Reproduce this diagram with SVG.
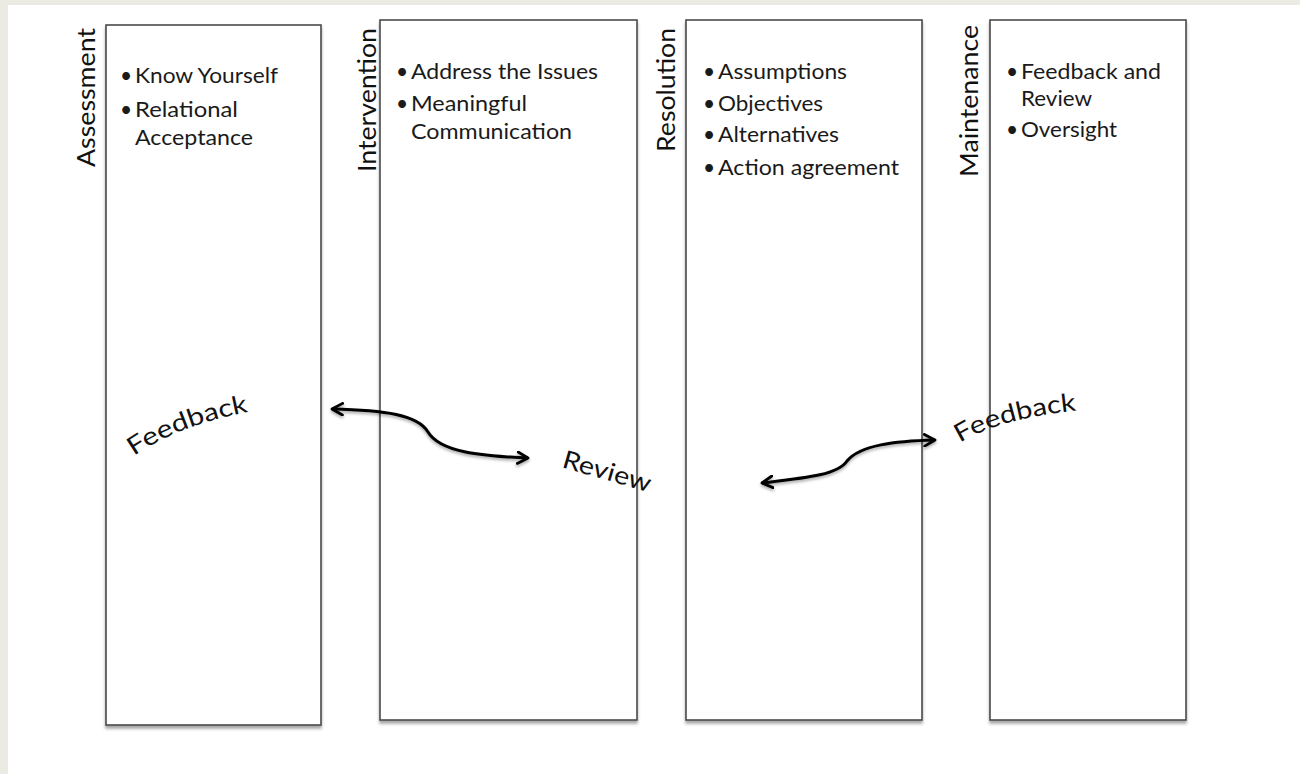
<svg xmlns="http://www.w3.org/2000/svg" width="1300" height="774" viewBox="0 0 1300 774">
<style>
.box{fill:#fff;stroke:#4a4a4a;stroke-width:1.6;filter:url(#sh)}
.lbl{font-family:Lato,"Open Sans",sans-serif;font-size:25px;fill:#111}
.bt{font-family:Lato,"Open Sans",sans-serif;font-size:21px;fill:#1a1a1a}
.wa{font-family:Lato,"Open Sans",sans-serif;font-size:25px;fill:#111}
.arr{fill:none;stroke:#000;stroke-width:3;marker-start:url(#ah);marker-end:url(#ah);filter:url(#ash)}
</style>
<defs>
<filter id="sh" x="-5%" y="-5%" width="110%" height="110%"><feDropShadow dx="0" dy="3" stdDeviation="1.5" flood-color="#000" flood-opacity="0.35"/></filter>
<filter id="ash" x="-10%" y="-50%" width="120%" height="200%"><feDropShadow dx="0" dy="2" stdDeviation="1.5" flood-color="#000" flood-opacity="0.35"/></filter>
<marker id="ah" viewBox="0 0 12 12" refX="10" refY="6" markerWidth="14" markerHeight="14" markerUnits="userSpaceOnUse" orient="auto-start-reverse">
<path d="M1,1 L10,6 L1,11" fill="none" stroke="#000" stroke-width="2.4" stroke-linecap="round" stroke-linejoin="round"/>
</marker>
<path id="fb1" d="M134,456 Q180,424 258,410"/>
<path id="fb2" d="M960,443 Q1000,418 1082,410"/>
</defs>
<rect x="0" y="0" width="1300" height="774" fill="#EBEBE3"/>
<rect x="8" y="5" width="1292" height="769" fill="#fff"/>

<g id="assessment">
<rect class="box" x="106" y="25" width="215" height="700"/>
<text class="lbl" transform="translate(95,167) rotate(-90)" textLength="139" lengthAdjust="spacingAndGlyphs">Assessment</text>
<text class="bt" x="120" y="83">•</text><text class="bt" x="135" y="83" textLength="143" lengthAdjust="spacingAndGlyphs">Know Yourself</text>
<text class="bt" x="120" y="117">•</text><text class="bt" x="135" y="117" textLength="103" lengthAdjust="spacingAndGlyphs">Relational</text>
<text class="bt" x="135" y="145" textLength="118" lengthAdjust="spacingAndGlyphs">Acceptance</text>
</g>

<g id="intervention">
<rect class="box" x="380" y="20" width="257" height="700"/>
<text class="lbl" transform="translate(376,172) rotate(-90)" textLength="144" lengthAdjust="spacingAndGlyphs">Intervention</text>
<text class="bt" x="396" y="79">•</text><text class="bt" x="411" y="79" textLength="187" lengthAdjust="spacingAndGlyphs">Address the Issues</text>
<text class="bt" x="396" y="111">•</text><text class="bt" x="411" y="111" textLength="116" lengthAdjust="spacingAndGlyphs">Meaningful</text>
<text class="bt" x="411" y="139" textLength="161" lengthAdjust="spacingAndGlyphs">Communication</text>
</g>

<g id="resolution">
<rect class="box" x="686" y="20" width="236" height="700"/>
<text class="lbl" transform="translate(675,152) rotate(-90)" textLength="124" lengthAdjust="spacingAndGlyphs">Resolution</text>
<text class="bt" x="703" y="79">•</text><text class="bt" x="718" y="79" textLength="129" lengthAdjust="spacingAndGlyphs">Assumptions</text>
<text class="bt" x="703" y="111">•</text><text class="bt" x="718" y="111" textLength="105" lengthAdjust="spacingAndGlyphs">Objectives</text>
<text class="bt" x="703" y="142">•</text><text class="bt" x="718" y="142" textLength="121" lengthAdjust="spacingAndGlyphs">Alternatives</text>
<text class="bt" x="703" y="175">•</text><text class="bt" x="718" y="175" textLength="181" lengthAdjust="spacingAndGlyphs">Action agreement</text>
</g>

<g id="maintenance">
<rect class="box" x="990" y="20" width="196" height="700"/>
<text class="lbl" transform="translate(978,177) rotate(-90)" textLength="152" lengthAdjust="spacingAndGlyphs">Maintenance</text>
<text class="bt" x="1006" y="79">•</text><text class="bt" x="1021" y="79" textLength="140" lengthAdjust="spacingAndGlyphs">Feedback and</text>
<text class="bt" x="1021" y="106" textLength="71" lengthAdjust="spacingAndGlyphs">Review</text>
<text class="bt" x="1006" y="137">•</text><text class="bt" x="1021" y="137" textLength="96" lengthAdjust="spacingAndGlyphs">Oversight</text>
</g>

<g id="connectors">
<path class="arr" d="M332,409 C385,410 418,415 428,432 C440,452 480,456 528,458"/>
<path class="arr" d="M762,483 C805,478 838,475 847,461 C860,445 895,441 935,440"/>
</g>

<g id="labels">
<text class="wa"><textPath href="#fb1" textLength="124" lengthAdjust="spacingAndGlyphs">Feedback</textPath></text>
<text class="wa" transform="translate(561,467) rotate(16)" textLength="91" lengthAdjust="spacingAndGlyphs">Review</text>
<text class="wa"><textPath href="#fb2" textLength="122" lengthAdjust="spacingAndGlyphs">Feedback</textPath></text>
</g>
</svg>
